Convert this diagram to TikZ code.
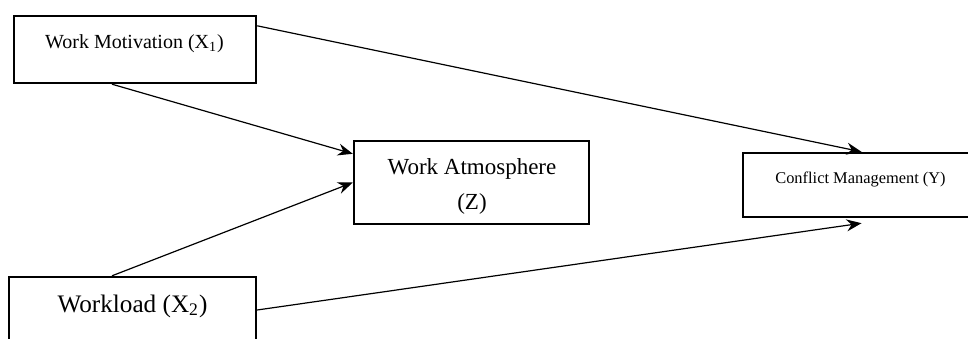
\documentclass[tikz,border=0pt]{standalone}
\usepackage{fontspec}
\setmainfont{Liberation Serif}
\usetikzlibrary{arrows.meta}

\begin{document}
\begin{tikzpicture}[x=0.5pt,y=-0.5pt]

      \useasboundingbox (0,0) rectangle (968,338);
      \clip (0,0) rectangle (968,338);

      % boxes
      \begin{scope}[every node/.style={rectangle,draw,line width=1.2pt}]
        \node[minimum width=121pt,  minimum height=33.5pt] (X1) at (135,49.5)   {};
        \node[minimum width=117.5pt,minimum height=41.5pt] (Z)  at (471.5,182.5) {};
        \node[minimum width=118.5pt,minimum height=32pt]   (Y)  at (861.5,185)   {};
        \node[minimum width=123.5pt,minimum height=35pt]   (X2) at (132.5,312)   {};
      \end{scope}

      % labels
      \begin{scope}[every node/.style={inner sep=0pt,anchor=base}]
        \node[font=\fontsize{10}{12}\selectfont]  (X1txt) at (134.5,48) {Work Motivation (X\textsubscript{1})};
        \node[font=\fontsize{11.5}{17.5}\selectfont,align=center,anchor=center] (Ztxt) at (472,186) {Work Atmosphere\\(Z)};
        \node[font=\fontsize{8.2}{10}\selectfont] (Ytxt)  at (860.5,183) {Conflict Management (Y)};
        \node[font=\fontsize{12.6}{15}\selectfont] (X2txt) at (132.5,312) {Workload (X\textsubscript{2})};
      \end{scope}

      % paths
      \begin{scope}[every edge/.style={draw,line width=0.6pt,-{Stealth[length=7.5pt,width=6pt,inset=2.5pt]}}]
        \path ([yshift=-5.5pt]X1.north east) edge (Y.north);
        \path ([xshift=-11.5pt]X1.south)     edge ([yshift=-7pt]Z.north west);
        \path ([xshift=-10.25pt]X2.north)    edge (Z.west);
        \path ([yshift=1pt]X2.east)          edge ([yshift=-2.5pt]Y.south);
      \end{scope}

    \end{tikzpicture}
\end{document}
